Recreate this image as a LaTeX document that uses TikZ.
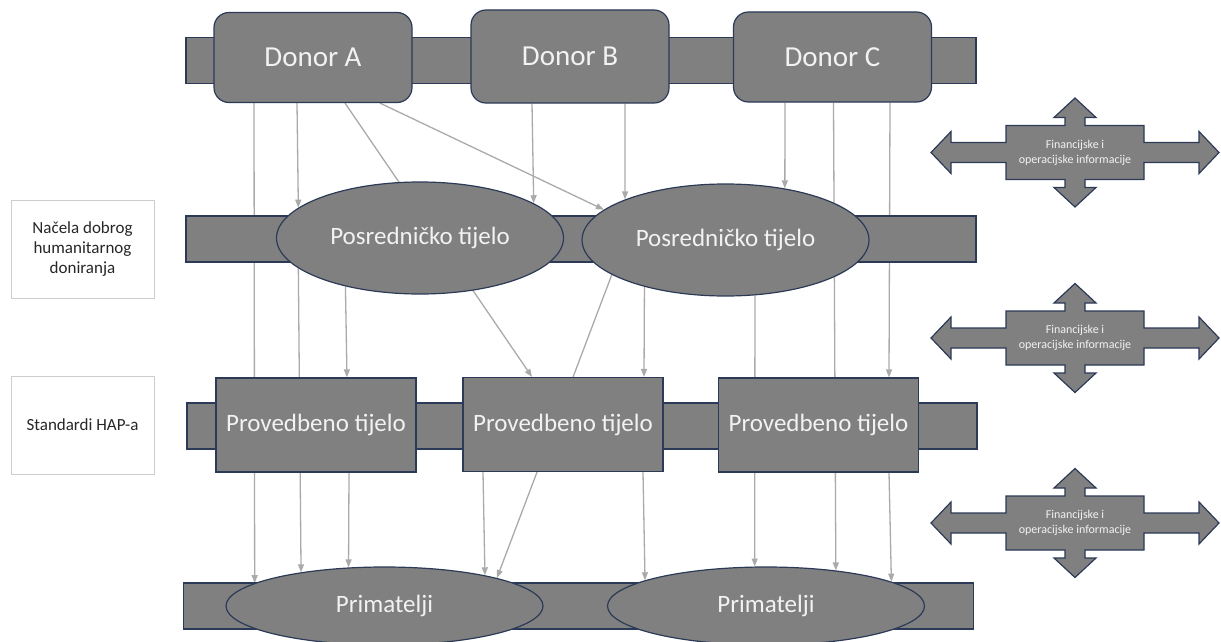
\documentclass[tikz,border=0pt]{standalone}
\usepackage{fontspec}
\setmainfont{Carlito}
\usetikzlibrary{arrows.meta,backgrounds,shapes.geometric}
\definecolor{boxgray}{RGB}{128,128,128}
\definecolor{edgeblue}{RGB}{44,58,88}
\definecolor{linkgray}{RGB}{170,170,170}
\definecolor{notegray}{RGB}{205,205,205}
\definecolor{textwhite}{RGB}{242,242,242}
\definecolor{textdark}{RGB}{38,38,38}

\begin{document}
\begin{tikzpicture}[x=1pt,y=-1pt,
    shapebase/.style={draw=edgeblue,line width=1.2pt,fill=boxgray,inner sep=0pt,text=textwhite},
    band/.style={shapebase,minimum width=790pt,minimum height=46pt},
    donor/.style={shapebase,rounded corners=15pt,minimum width=198pt,minimum height=90pt,font=\fontsize{29}{34}\selectfont},
    middle/.style={shapebase,ellipse,minimum width=287pt,minimum height=112pt,font=\fontsize{25}{30}\selectfont},
    doer/.style={shapebase,minimum width=200pt,minimum height=94pt,font=\fontsize{25}{30}\selectfont},
    target/.style={shapebase,ellipse,minimum width=317pt,minimum height=78pt,font=\fontsize{25}{30}\selectfont},
    note/.style={draw=notegray,line width=1pt,minimum width=143pt,minimum height=98pt,align=center,text=textdark,font=\fontsize{17}{20}\selectfont},
    cross/.style={draw=edgeblue,line width=1.2pt,fill=boxgray},
    crosstext/.style={align=center,text=textwhite,font=\fontsize{12}{15}\selectfont},
    link/.style={draw=linkgray,line width=1.3pt,-{Triangle[length=8pt,width=6pt]}}]
\useasboundingbox (0,0) rectangle (1221,642);

% bands
\node[band] (band1) at (581,60.5) {};
\node[band] (band2) at (581,239) {};
\node[band] (band3) at (582,426) {};
\node[band] (band4) at (578.5,606) {};

% donors
\node[donor] (donA) at (313,57.5) {Donor A};
\node[donor,minimum height=93pt] (donB) at (570,56.5) {Donor B};
\node[donor] (donC) at (832.5,57) {Donor C};

% intermediaries
\node[middle] (pos1) at (420,238) {Posredničko tijelo};
\node[middle] (pos2) at (725.5,240) {Posredničko tijelo};

% implementers
\node[doer] (prov1) at (316,425) {Provedbeno tijelo};
\node[doer] (prov2) at (563,424.5) {Provedbeno tijelo};
\node[doer] (prov3) at (818.5,425) {Provedbeno tijelo};

% recipients
\node[target] (prim1) at (384.5,606) {Primatelji};
\node[target] (prim2) at (766,606) {Primatelji};

% left notes
\node[note] (note1) at (82.5,249) {Načela dobrog\\humanitarnog\\doniranja};
\node[note] (note2) at (82.5,425) {Standardi HAP-a};

% information arrows
\foreach \cy [count=\i] in {152.5,338,523} {
  \draw[cross,shift={(1075,\cy)}] (144,0) -- (124,-21) -- (124,-10) -- (69,-10) -- (69,-27)
    -- (10,-27) -- (10,-35) -- (21,-35) -- (0,-54.5) -- (-21,-35) -- (-10,-35) -- (-10,-27)
    -- (-69,-27) -- (-69,-10) -- (-124,-10) -- (-124,-21) -- (-144,0) -- (-124,21) -- (-124,10)
    -- (-69,10) -- (-69,27) -- (-10,27) -- (-10,35) -- (-21,35) -- (0,54.5) -- (21,35)
    -- (10,35) -- (10,27) -- (69,27) -- (69,10) -- (124,10) -- (124,21) -- cycle;
  \node[crosstext] (info\i) at (1075,\cy) {Financijske i\\operacijske informacije};
}

% flows
\begin{pgfonlayer}{background}
\draw[link] ([xshift=-59pt]donA.south) -- (prim1.170);
\draw[link] ([xshift=-16pt]donA.south) -- (pos1.166);
\draw[link] ([xshift=32pt]donA.south) -- ([xshift=-31pt]prov2.north);
\draw[link] ([xshift=67pt]donA.south) -- (pos2.166);
\draw[link] ([xshift=-38pt]donB.south) -- (pos1.17);
\draw[link] ([xshift=55pt]donB.south) -- (pos2.158);
\draw[link] ([xshift=-47.5pt]donC.south) -- (pos2.41);
\draw[link] ([xshift=1pt]donC.south) -- (prim2.27);
\draw[link] ([xshift=57.5pt]donC.south) -- ([xshift=70.5pt]prov3.north);
\draw[link] (pos1.194) -- (prim1.158);
\draw[link] (pos1.213) -- ([xshift=31pt]prov1.north);
\draw[link] ([xshift=33pt]prov1.south) -- (prim1.133);
\draw[link] (pos2.197) -- (prim1.14);
\draw[link] ([xshift=-80pt]prov2.south) -- (prim1.17);
\draw[link] (pos2.210) -- ([xshift=81pt]prov2.north);
\draw[link] ([xshift=80pt]prov2.south) -- (prim2.168);
\draw[link] (pos2.298) -- (prim2.106);
\draw[link] ([xshift=70.5pt]prov3.south) -- (prim2.11);
\end{pgfonlayer}
\end{tikzpicture}
\end{document}
